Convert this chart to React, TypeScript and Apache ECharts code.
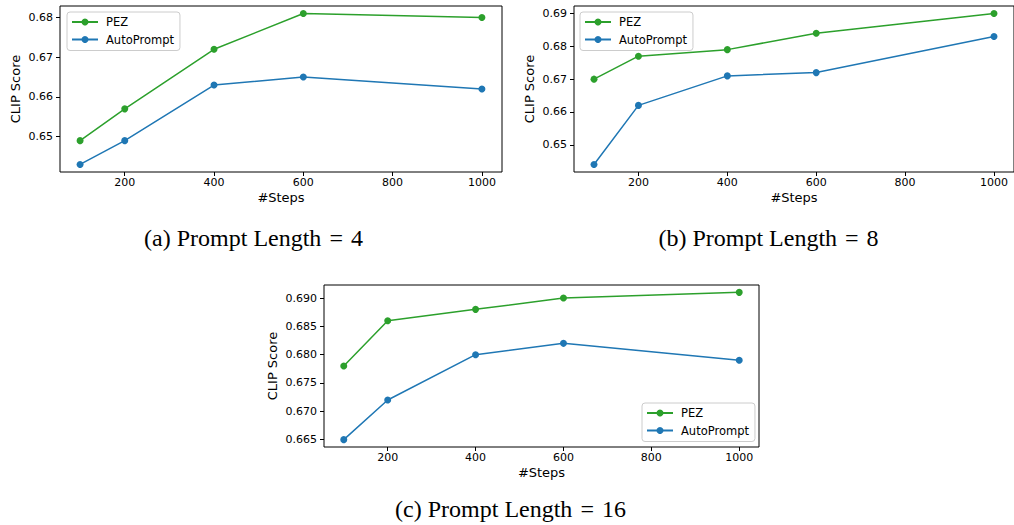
import React, { useEffect, useRef } from "react";
import * as echarts from "echarts";

const steps = [100, 200, 400, 600, 1000];
const xTicks = [200, 400, 600, 800, 1000];

const pezA = [0.649, 0.657, 0.672, 0.681, 0.68];
const autoA = [0.643, 0.649, 0.663, 0.665, 0.662];
const pezB = [0.67, 0.677, 0.679, 0.684, 0.69];
const autoB = [0.644, 0.662, 0.671, 0.672, 0.683];
const pezC = [0.678, 0.686, 0.688, 0.69, 0.691];
const autoC = [0.665, 0.672, 0.68, 0.682, 0.679];

const yTicksA = [0.65, 0.66, 0.67, 0.68];
const yTicksB = [0.65, 0.66, 0.67, 0.68, 0.69];
const yTicksC = [0.665, 0.67, 0.675, 0.68, 0.685, 0.69];

const captions = [
  "(a) Prompt Length\u2004=\u20044",
  "(b) Prompt Length\u2004=\u20048",
  "(c) Prompt Length\u2004=\u200416",
];
const seriesNames = ["PEZ", "AutoPrompt"];

const GREEN = "#2ca02c";
const BLUE = "#1f77b4";
const FONT = "DejaVu Sans";

function padExtent(vals: number[]) {
  const mn = Math.min(...vals);
  const mx = Math.max(...vals);
  const r = mx - mn;
  return [mn - 0.05 * r, mx + 0.05 * r];
}

export default function App() {
  const ref = useRef<HTMLDivElement>(null);
  useEffect(() => {
    if (!ref.current) return;
    const chart = echarts.init(ref.current, null, { renderer: "svg" });
    const grids = [
      { left: 60, top: 6, width: 442, height: 166 },
      { left: 574, top: 6, width: 440, height: 166 },
      { left: 324, top: 285, width: 435, height: 162 },
    ];
    const sets = [
      { pez: pezA, auto: autoA, ticks: yTicksA, dec: 2 },
      { pez: pezB, auto: autoB, ticks: yTicksB, dec: 2 },
      { pez: pezC, auto: autoC, ticks: yTicksC, dec: 3 },
    ];
    const xExt = padExtent(steps);
    const xAxis = grids.map((_, i) => ({
      type: "value",
      gridIndex: i,
      min: xExt[0],
      max: xExt[1],
      name: "#Steps",
      nameLocation: "middle",
      nameGap: 19,
      nameTextStyle: { fontFamily: FONT, fontSize: 13, color: "#000" },
      axisLine: { show: false },
      splitLine: { show: false },
      axisTick: { show: true, length: 4, inside: false, customValues: xTicks, lineStyle: { color: "#000", width: 1 } },
      axisLabel: {
        customValues: xTicks,
        margin: 5,
        fontFamily: FONT,
        fontSize: 11,
        color: "#000",
        formatter: (v: number) => String(Math.round(v)),
      },
    }));
    const yAxis = sets.map((s, i) => {
      const ext = padExtent([...s.pez, ...s.auto]);
      return {
        type: "value",
        gridIndex: i,
        min: ext[0],
        max: ext[1],
        name: "CLIP Score",
        nameLocation: "middle",
        nameRotate: 90,
        nameGap: i === 2 ? 45 : 38,
        nameTextStyle: { fontFamily: FONT, fontSize: 13, color: "#000" },
        axisLine: { show: false },
        splitLine: { show: false },
        axisTick: { show: true, length: 4, inside: false, customValues: s.ticks, lineStyle: { color: "#000", width: 1 } },
        axisLabel: {
          customValues: s.ticks,
          margin: 7,
          fontFamily: FONT,
          fontSize: 11,
          color: "#000",
          formatter: (v: number) => v.toFixed(s.dec),
        },
      };
    });
    const series: any[] = [];
    sets.forEach((s, i) => {
      [s.pez, s.auto].forEach((vals, k) => {
        series.push({
          type: "line",
          name: seriesNames[k],
          xAxisIndex: i,
          yAxisIndex: i,
          data: steps.map((x, j) => [x, vals[j]]),
          symbol: "circle",
          symbolSize: 7,
          showSymbol: true,
          lineStyle: { width: 1.5, color: k === 0 ? GREEN : BLUE },
          itemStyle: { color: k === 0 ? GREEN : BLUE },
          z: k === 0 ? 3 : 2,
        });
      });
    });
    const legendPos = [
      { left: 67, top: 12 },
      { left: 580, top: 12 },
      { left: 642, top: 403 },
    ];
    const legend = legendPos.map((p) => ({
      ...p,
      orient: "vertical",
      data: seriesNames,
      itemWidth: 26,
      itemHeight: 8.75,
      itemGap: 5.5,
      padding: [4, 6, 5, 4],
      borderColor: "#cccccc",
      borderWidth: 1,
      borderRadius: 3,
      backgroundColor: "rgba(255,255,255,0.8)",
      selectedMode: false,
      textStyle: { fontFamily: FONT, fontSize: 11.5, color: "#000", padding: [0, 0, 0, 3] },
    }));
    const capPos = [
      [253.5, 238],
      [768.5, 238],
      [510.5, 509],
    ];
    const graphic = captions.map((c, i) => ({
      type: "text",
      x: capPos[i][0],
      y: capPos[i][1],
      style: {
        text: c,
        fontFamily: "Liberation Serif",
        fontSize: 24,
        fill: "#000",
        textAlign: "center",
        textVerticalAlign: "middle",
      },
    }));
    chart.setOption({
      animation: false,
      backgroundColor: "#fff",
      grid: grids.map((g) => ({ ...g, show: true, borderColor: "#000", borderWidth: 1, backgroundColor: "transparent" })),
      xAxis,
      yAxis,
      legend,
      series,
      graphic,
    });
    return () => chart.dispose();
  }, []);
  return (
    <div
      ref={ref}
      style={{ position: "fixed", left: 0, top: 0, width: 1014, height: 525, background: "#fff" }}
    />
  );
}
